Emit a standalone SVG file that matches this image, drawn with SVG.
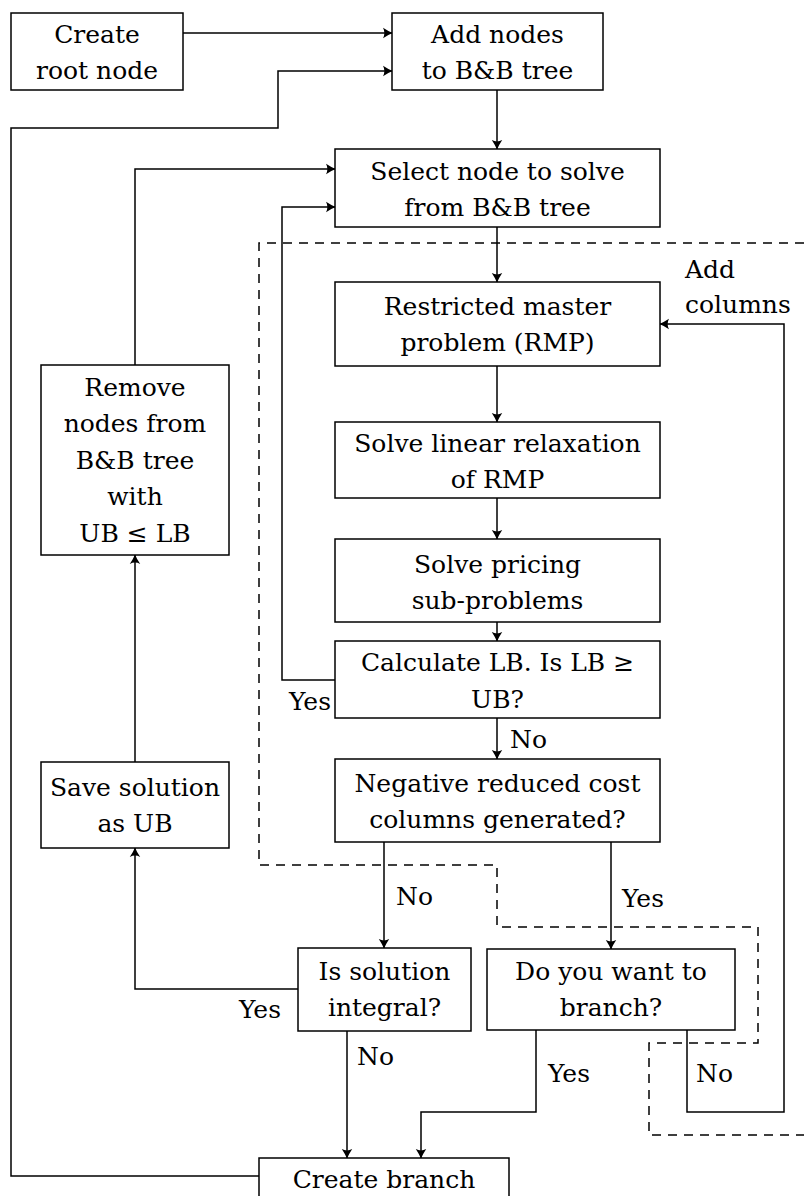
<svg xmlns="http://www.w3.org/2000/svg" width="804" height="1196" viewBox="0 0 804 1196">
  <style>
    .box { fill: #fff; stroke: #000; stroke-width: 1.5; }
    text { font-family: "DejaVu Serif", serif; font-size: 25px; fill: #000; }
    .c { text-anchor: middle; }
    .e { text-anchor: end; }
    .wire { fill: none; stroke: #000; stroke-width: 1.5; }
    .arrow { marker-end: url(#tip); }
    .dash { fill: none; stroke: #000; stroke-width: 1.5; stroke-dasharray: 9 7; }
  </style>
  <defs>
    <marker id="tip" markerUnits="userSpaceOnUse" markerWidth="14" markerHeight="14" viewBox="-11 -7 12 14" refX="0" refY="0" orient="auto">
      <path d="M0.6,0 Q-3.5,-1.6 -9,-5.2 Q-6.2,0 -9,5.2 Q-3.5,1.6 0.6,0 Z" fill="#000"/>
    </marker>
  </defs>
  <rect width="804" height="1196" fill="#fff"/>

  <!-- column-generation region -->
  <path class="dash" d="M804,243 H259 V865 H497 V927 H758 V1043 H649 V1135 H804"/>

  <g id="connectors">
    <path class="wire arrow" d="M183,33 H392"/>
    <path class="wire arrow" d="M259,1176 H11 V128 H278 V71 H392"/>
    <path class="wire arrow" d="M497,90 V149"/>
    <path class="wire arrow" d="M497,227 V282"/>
    <path class="wire arrow" d="M497,366 V422"/>
    <path class="wire arrow" d="M497,498 V539"/>
    <path class="wire arrow" d="M497,622 V641"/>
    <path class="wire arrow" d="M335,680 H282 V207 H335"/>
    <path class="wire arrow" d="M497,718 V759"/>
    <path class="wire arrow" d="M384,842 V948"/>
    <path class="wire arrow" d="M611,842 V949"/>
    <path class="wire arrow" d="M298,989 H135 V848"/>
    <path class="wire arrow" d="M135,762 V555"/>
    <path class="wire arrow" d="M135,365 V169 H335"/>
    <path class="wire arrow" d="M347,1031 V1158"/>
    <path class="wire arrow" d="M536,1030 V1112 H421 V1158"/>
    <path class="wire arrow" d="M687,1030 V1112 H784 V324 H660"/>

    <text x="685" y="278">Add</text>
    <text x="685" y="313">columns</text>
    <text class="e" x="331" y="710">Yes</text>
    <text x="510" y="748">No</text>
    <text x="396" y="905">No</text>
    <text x="622" y="907">Yes</text>
    <text class="e" x="281" y="1018">Yes</text>
    <text x="357" y="1065">No</text>
    <text x="548" y="1082">Yes</text>
    <text x="696" y="1082">No</text>
  </g>

  <g id="create-root">
    <rect class="box" x="11" y="13" width="172" height="77"/>
    <text class="c" x="97" y="43">Create</text>
    <text class="c" x="97" y="79">root node</text>
  </g>

  <g id="add-nodes">
    <rect class="box" x="392" y="13" width="211" height="77"/>
    <text class="c" x="497.5" y="43">Add nodes</text>
    <text class="c" x="497.5" y="79">to B&amp;B tree</text>
  </g>

  <g id="select-node">
    <rect class="box" x="335" y="149" width="325" height="78"/>
    <text class="c" x="497.5" y="180">Select node to solve</text>
    <text class="c" x="497.5" y="216">from B&amp;B tree</text>
  </g>

  <g id="rmp">
    <rect class="box" x="335" y="282" width="325" height="84"/>
    <text class="c" x="497.5" y="315">Restricted master</text>
    <text class="c" x="497.5" y="351">problem (RMP)</text>
  </g>

  <g id="solve-relaxation">
    <rect class="box" x="335" y="422" width="325" height="76"/>
    <text class="c" x="497.5" y="452">Solve linear relaxation</text>
    <text class="c" x="497.5" y="488">of RMP</text>
  </g>

  <g id="solve-pricing">
    <rect class="box" x="335" y="539" width="325" height="83"/>
    <text class="c" x="497.5" y="573">Solve pricing</text>
    <text class="c" x="497.5" y="609">sub-problems</text>
  </g>

  <g id="calculate-lb">
    <rect class="box" x="335" y="641" width="325" height="77"/>
    <text class="c" x="497.5" y="671">Calculate LB. Is LB ≥</text>
    <text class="c" x="497.5" y="708">UB?</text>
  </g>

  <g id="negative-columns">
    <rect class="box" x="335" y="759" width="325" height="83"/>
    <text class="c" x="497.5" y="792">Negative reduced cost</text>
    <text class="c" x="497.5" y="828">columns generated?</text>
  </g>

  <g id="is-integral">
    <rect class="box" x="298" y="948" width="173" height="83"/>
    <text class="c" x="384.5" y="980">Is solution</text>
    <text class="c" x="384.5" y="1016">integral?</text>
  </g>

  <g id="want-branch">
    <rect class="box" x="487" y="949" width="248" height="81"/>
    <text class="c" x="611" y="980">Do you want to</text>
    <text class="c" x="611" y="1016">branch?</text>
  </g>

  <g id="save-ub">
    <rect class="box" x="41" y="762" width="188" height="86"/>
    <text class="c" x="135" y="796">Save solution</text>
    <text class="c" x="135" y="832">as UB</text>
  </g>

  <g id="remove-nodes">
    <rect class="box" x="41" y="365" width="188" height="190"/>
    <text class="c" x="135" y="396">Remove</text>
    <text class="c" x="135" y="432">nodes from</text>
    <text class="c" x="135" y="469">B&amp;B tree</text>
    <text class="c" x="135" y="505">with</text>
    <text class="c" x="135" y="542">UB ≤ LB</text>
  </g>

  <g id="create-branch">
    <rect class="box" x="259" y="1158" width="250" height="60"/>
    <text class="c" x="384" y="1188">Create branch</text>
  </g>
</svg>
